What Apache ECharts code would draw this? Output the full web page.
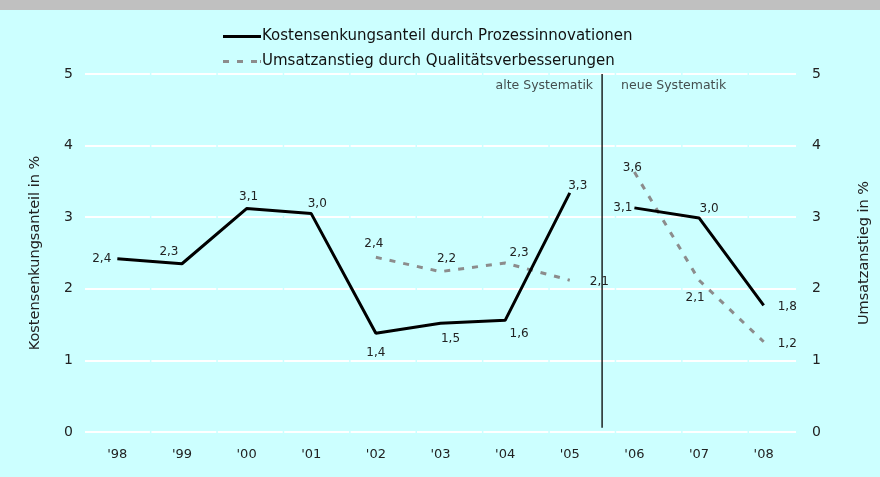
<!DOCTYPE html>
<html>
<head>
<meta charset="utf-8">
<script src="https://cdn.jsdelivr.net/npm/echarts@6/dist/echarts.min.js"></script>
<style>
html,body{margin:0;padding:0;background:#ccffff;}
#c{width:880px;height:477px;}
</style>
</head>
<body>
<div id="c"></div>
<script>
var categories = ["'98","'99","'00","'01","'02","'03","'04","'05","'06","'07","'08"];
// Kostensenkungsanteil durch Prozessinnovationen (left axis)
var costOld = [2.42, 2.35, 3.12, 3.05, 1.38, 1.52, 1.56, 3.34, null, null, null];
var costNew = [null, null, null, null, null, null, null, null, 3.13, 2.99, 1.77];
var costLabels = ['2,4','2,3','3,1','3,0','1,4','1,5','1,6','3,3','3,1','3,0','1,8'];
// Umsatzanstieg durch Qualitätsverbesserungen (right axis)
var salesOld = [null, null, null, null, 2.44, 2.24, 2.36, 2.12, null, null, null];
var salesNew = [null, null, null, null, null, null, null, null, 3.63, 2.12, 1.26];
var salesLabels = ['','','','','2,4','2,2','2,3','2,1','3,6','2,1','1,2'];
var yTicks = [0, 1, 2, 3, 4, 5];
var seriesNames = ['Kostensenkungsanteil durch Prozessinnovationen', 'Umsatzanstieg durch Qualitätsverbesserungen'];
var axisNames = ['Kostensenkungsanteil in %', 'Umsatzanstieg in %'];
var divider = 7.5;
var periodNames = ['alte Systematik', 'neue Systematik'];

// label placement (style)
var costPos = ['left','top','top','top','bottom','bottom','bottom','top','left','top','right'];
var costOff = [[0,0],[-13,0],[2,0],[6,2],[0,8],[10,4],[14,2],[8,5],[4,0],[10,3],[8,2]];
var salesPos = ['','','','','top','top','top','right','top','bottom','right'];
var salesOff = [null,null,null,null,[-2,-1],[6,-1],[14,2],[14,2],[-2,8],[-4,6],[8,2]];

var FONT = 'DejaVu Sans';
function mk(vals, labels, pos, off) {
  return vals.map(function (v, i) {
    if (v === null) return null;
    return {value: v, label: {show: true, formatter: labels[i], position: pos[i], offset: off[i] || [0,0]}};
  });
}
var lblStyle = {fontFamily: FONT, fontSize: 12, color: '#222', distance: 6};
var costLine = {color: '#000', width: 3};
var salesLine = {color: '#8c8c8c', width: 3, type: [6, 8]};

var chart = echarts.init(document.getElementById('c'), null, {renderer: 'canvas'});
function lineSeries(name, axis, vals, labels, pos, off, ls, color, z) {
  return {name: name, type: 'line', yAxisIndex: axis, data: mk(vals, labels, pos, off),
    symbol: 'circle', symbolSize: 0, showSymbol: true, lineStyle: ls,
    itemStyle: {color: color}, label: lblStyle, connectNulls: false, z: z};
}
chart.setOption({
  backgroundColor: '#ccffff',
  animation: false,
  graphic: [{type: 'rect', left: 0, top: 0, shape: {width: 880, height: 10}, style: {fill: '#c0c0c0'}, silent: true}],
  legend: {
    orient: 'vertical', left: 218, top: 24, itemGap: 10, itemWidth: 38, itemHeight: 14,
    textStyle: {fontFamily: FONT, fontSize: 15, color: '#111', padding: [0,0,0,-4]},
    data: [
      {name: seriesNames[0], icon: 'path://M0,6 L38,6 L38,9 L0,9 Z', itemStyle: {color: '#000'}},
      {name: seriesNames[1], icon: 'path://M0,6 L6,6 L6,9 L0,9 Z M14,6 L20,6 L20,9 L14,9 Z M28,6 L34,6 L34,9 L28,9 Z M37,6 L38,6 L38,9 L37,9 Z', itemStyle: {color: '#8c8c8c'}}
    ]
  },
  grid: {left: 85, right: 70, top: 74, bottom: 45, containLabel: false},
  xAxis: [{
    type: 'category', data: categories, boundaryGap: true,
    axisLine: {show: false}, axisTick: {show: false},
    axisLabel: {fontFamily: FONT, fontSize: 13, color: '#222', margin: 16},
    splitLine: {show: false}
  }, {
    type: 'value', min: -0.5, max: 10.5, show: false
  }],
  yAxis: [{
    type: 'value', min: yTicks[0], max: yTicks[yTicks.length-1], interval: 1,
    name: axisNames[0], nameLocation: 'middle', nameGap: 42, nameRotate: 90,
    nameTextStyle: {fontFamily: FONT, fontSize: 14.5, color: '#222'},
    axisLine: {show: false}, axisTick: {show: false},
    axisLabel: {fontFamily: FONT, fontSize: 14, color: '#222', margin: 12},
    splitLine: {show: true, lineStyle: {color: '#ffffff', width: 2, type: [64.9, 1.5]}}
  }, {
    type: 'value', min: yTicks[0], max: yTicks[yTicks.length-1], interval: 1, position: 'right',
    name: axisNames[1], nameLocation: 'middle', nameGap: 61, nameRotate: 90,
    nameTextStyle: {fontFamily: FONT, fontSize: 14.5, color: '#222'},
    axisLine: {show: false}, axisTick: {show: false},
    axisLabel: {fontFamily: FONT, fontSize: 14, color: '#222', margin: 16},
    splitLine: {show: false}
  }],
  series: [
    lineSeries(seriesNames[0], 0, costOld, costLabels, costPos, costOff, costLine, '#000', 5),
    lineSeries(seriesNames[0], 0, costNew, costLabels, costPos, costOff, costLine, '#000', 5),
    lineSeries(seriesNames[1], 1, salesOld, salesLabels, salesPos, salesOff, salesLine, '#8c8c8c', 4),
    lineSeries(seriesNames[1], 1, salesNew, salesLabels, salesPos, salesOff, salesLine, '#8c8c8c', 4),
    {name: 'divider', type: 'line', xAxisIndex: 1, yAxisIndex: 0, data: [[divider, 0.06], [divider, 5]],
     symbol: 'none', lineStyle: {color: '#000', width: 1.3}, silent: true, z: 3},
    {name: 'periods', type: 'scatter', xAxisIndex: 1, yAxisIndex: 0, symbolSize: 0, silent: true,
     data: [
       {value: [divider, 4.83], label: {show: true, formatter: periodNames[0], position: 'left', distance: 9}},
       {value: [divider, 4.83], label: {show: true, formatter: periodNames[1], position: 'right', distance: 19}}
     ],
     label: {fontFamily: FONT, fontSize: 12.5, color: '#222'}}
  ]
});
</script>
</body>
</html>
